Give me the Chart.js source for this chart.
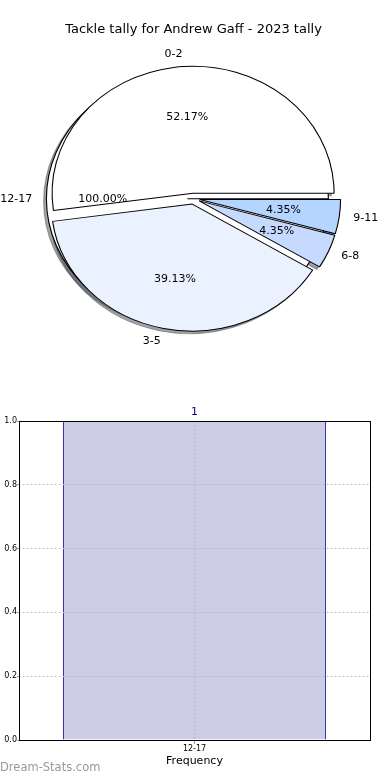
<!DOCTYPE html>
<html>
<head>
<meta charset="utf-8">
<script src="https://cdn.jsdelivr.net/npm/chart.js@4.4.0/dist/chart.umd.min.js"></script>
<style>
  body { margin: 0; background: #fff; }
  canvas { display: block; }
</style>
</head>
<body>
<canvas id="pie" width="390" height="390"></canvas>
<canvas id="bar" width="390" height="390"></canvas>
<script>
// pie: the tally buckets
const sliceNames = ['0-2', '3-5', '6-8', '9-11'];
const sliceCounts = [12, 9, 1, 1];
const sliceColors = ['#ffffff', '#eaf1ff', '#c6d9ff', '#b3d5ff'];
// the stray bucket that gets drawn as its own full wedge
const extraNames = ['12-17'];
const extraCounts = [1];

// frequency bars
const barCategories = ['12-17'];
const barValues = [1];
const yTicks = [0, 0.2, 0.4, 0.6, 0.8, 1.0];

Chart.defaults.font.family = '"DejaVu Sans", sans-serif';
Chart.defaults.color = '#000';

const R = 127;          // vertical radius
const SX = 141 / 127;   // pie is squashed, wider than tall
const EXPLODE = 5.5;
const SHADOW = 2.5;

function shade(hex) {
  const n = parseInt(hex.slice(1), 16);
  const r = Math.round(((n >> 16) & 255) * 0.3);
  const g = Math.round(((n >> 8) & 255) * 0.3);
  const b = Math.round((n & 255) * 0.3);
  return 'rgba(' + r + ',' + g + ',' + b + ',0.5)';
}

const pieLook = {
  id: 'pieLook',
  afterDatasetsUpdate(chart) {
    chart.data.datasets.forEach((ds, i) => {
      chart.getDatasetMeta(i).data.forEach(arc => {
        const mid = (arc.startAngle + arc.endAngle) / 2;
        arc.x += Math.cos(mid) * EXPLODE;
        arc.y += Math.sin(mid) * EXPLODE;
        arc.innerRadius = 0;
        arc.outerRadius = R;
      });
    });
  },
  beforeDatasetsDraw(chart) {
    const ctx = chart.ctx;
    const a = chart.chartArea;
    const cx = (a.left + a.right) / 2;
    ctx.save();
    ctx.translate(cx, 0);
    ctx.scale(SX, 1);
    ctx.translate(-cx, 0);
    // shadows first, under every wedge
    chart.data.datasets.forEach((ds, i) => {
      chart.getDatasetMeta(i).data.forEach(arc => {
        const c = shade(arc.options.backgroundColor);
        const ghost = Object.create(arc);
        ghost.options = Object.assign({}, arc.options, { backgroundColor: c, borderColor: c });
        ctx.save();
        ctx.translate(-SHADOW, SHADOW);
        ghost.draw(ctx);
        ctx.restore();
      });
    });
  },
  afterDatasetsDraw(chart) {
    chart.ctx.restore();
  },
  afterDraw(chart) {
    const ctx = chart.ctx;
    const a = chart.chartArea;
    const cx = (a.left + a.right) / 2;
    ctx.save();
    ctx.font = '11px "DejaVu Sans"';
    ctx.fillStyle = '#000';
    ctx.textBaseline = 'middle';
    chart.data.datasets.forEach((ds, i) => {
      const total = ds.data.reduce((s, v) => s + v, 0);
      chart.getDatasetMeta(i).data.forEach((arc, j) => {
        const mid = (arc.startAngle + arc.endAngle) / 2;
        const at = d => [cx + SX * (arc.x + Math.cos(mid) * R * d - cx), arc.y + Math.sin(mid) * R * d];
        let p = at(1.1);
        ctx.textAlign = Math.cos(mid) < 0 ? 'right' : 'left';
        ctx.fillText(ds.names[j], p[0], p[1]);
        p = at(0.6);
        ctx.textAlign = 'center';
        ctx.fillText((ds.data[j] / total * 100).toFixed(2) + '%', p[0], p[1]);
      });
    });
    ctx.restore();
  }
};

new Chart(document.getElementById('pie'), {
  type: 'pie',
  data: {
    datasets: [
      {
        names: extraNames,
        data: extraCounts,
        backgroundColor: '#ffffff',
        borderColor: '#000',
        borderWidth: 1,
        order: 1
      },
      {
        // clockwise from 3 o'clock, so reversed
        names: sliceNames.slice().reverse(),
        data: sliceCounts.slice().reverse(),
        backgroundColor: sliceColors.slice().reverse(),
        borderColor: '#000',
        borderWidth: 1,
        order: 0
      }
    ]
  },
  options: {
    responsive: false,
    animation: false,
    rotation: 90,
    layout: { padding: { left: 0, right: 3, top: 0, bottom: 30.4 } },
    plugins: {
      legend: { display: false },
      tooltip: { enabled: false },
      title: {
        display: true,
        text: 'Tackle tally for Andrew Gaff - 2023 tally',
        color: '#000',
        font: { size: 13, weight: 'normal' },
        padding: { top: 22.2, bottom: 0 }
      }
    }
  },
  plugins: [pieLook]
});

const barLook = {
  id: 'barLook',
  afterDatasetsDraw(chart) {
    const ctx = chart.ctx;
    ctx.save();
    ctx.font = '11px "DejaVu Sans"';
    ctx.fillStyle = '#00008b';
    ctx.textAlign = 'center';
    ctx.textBaseline = 'bottom';
    chart.getDatasetMeta(0).data.forEach((bar, i) => {
      ctx.fillText(String(barValues[i]), bar.x, bar.y - 3);
    });
    ctx.restore();
  },
  afterDraw(chart) {
    const ctx = chart.ctx;
    const a = chart.chartArea;
    ctx.save();
    // full box round the plot
    ctx.strokeStyle = '#000';
    ctx.lineWidth = 1;
    ctx.strokeRect(Math.round(a.left) + 0.5, Math.round(a.top) + 0.5,
      Math.round(a.right - a.left), Math.round(a.bottom - a.top));
    ctx.font = '11.5px "DejaVu Sans"';
    ctx.fillStyle = '#999';
    ctx.textAlign = 'left';
    ctx.textBaseline = 'middle';
    ctx.fillText('Dream-Stats.com', 0, 378);
    ctx.restore();
  }
};

new Chart(document.getElementById('bar'), {
  type: 'bar',
  data: {
    labels: barCategories,
    datasets: [{
      data: barValues,
      backgroundColor: '#ccccE5',
      borderColor: '#00009a',
      borderWidth: 1,
      borderSkipped: 'bottom',
      categoryPercentage: 1,
      barPercentage: 0.75
    }]
  },
  options: {
    responsive: false,
    animation: false,
    layout: { padding: { top: 31, right: 20, left: 0, bottom: 0 } },
    plugins: { legend: { display: false }, tooltip: { enabled: false } },
    scales: {
      x: {
        grid: { offset: false, color: '#b8b8b8', tickLength: 4, tickColor: '#999', z: 1 },
        border: { display: false, dash: [1.5, 2.5] },
        ticks: { font: { size: 8 }, color: '#000', padding: 0, maxRotation: 0 },
        title: { display: true, text: 'Frequency', color: '#000', font: { size: 11 }, padding: { top: 0, bottom: 12.4 } },
        afterFit: s => { s.height = 40; }
      },
      y: {
        min: yTicks[0],
        max: yTicks[yTicks.length - 1],
        afterBuildTicks: s => { s.ticks = yTicks.map(v => ({ value: v })); },
        grid: { color: '#b8b8b8', tickLength: 2, tickColor: '#999', z: 1 },
        border: { display: false, dash: [1.5, 2.5] },
        ticks: { font: { size: 8 }, color: '#000', padding: 0, callback: v => v.toFixed(1) },
        afterFit: s => { s.width = 19; }
      }
    }
  },
  plugins: [barLook]
});
</script>
</body>
</html>
